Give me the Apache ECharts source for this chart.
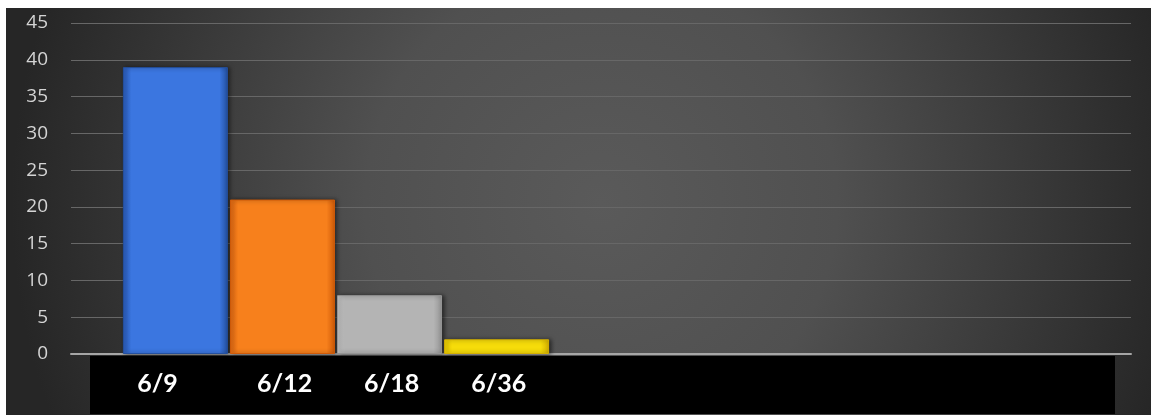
<!DOCTYPE html>
<html>
<head>
<meta charset="UTF-8">
<title>Chart</title>
<script src="https://cdn.jsdelivr.net/npm/echarts@6/dist/echarts.min.js"></script>
<style>
  body { margin: 0; background: #fff; }
  #main { position: absolute; left: 6px; top: 8px; width: 1145px; height: 407px; }
</style>
</head>
<body>
<div id="main"></div>
<script>
// data
var categories = ['6/9', '6/12', '6/18', '6/36'];
var values = [39, 21, 8, 2];
var barColors = [
  ['#2a5cbc', '#3b76e0', '#24509f'],
  ['#e56a12', '#f7801c', '#cf5a08'],
  ['#c8c8c8', '#b4b4b4', '#949494'],
  ['#f0d000', '#f6dc0a', '#d4b000']
];
var yTicks = [0, 45, 5];

var chart = echarts.init(document.getElementById('main'));

function grad(c) {
  return new echarts.graphic.LinearGradient(0, 0, 1, 0, [
    { offset: 0, color: c[0] },
    { offset: 0.08, color: c[1] },
    { offset: 0.92, color: c[1] },
    { offset: 1, color: c[2] }
  ]);
}

var barData = categories.map(function (c, i) {
  return {
    value: [i + 1, values[i]],
    itemStyle: { color: grad(barColors[i]), borderColor: barColors[i][2], borderWidth: 1 }
  };
});

var option = {
  backgroundColor: new echarts.graphic.RadialGradient(0.52, 0.48, 1.45, [
    { offset: 0, color: '#5a5a5a' },
    { offset: 0.4, color: '#505050' },
    { offset: 1, color: '#262626' }
  ]),
  animation: false,
  graphic: [{
    type: 'rect',
    left: 84, top: 348,
    shape: { width: 1025, height: 58 },
    style: { fill: '#000' },
    z: -1
  }],
  grid: { left: 65, right: 20, top: 15, bottom: 61 },
  xAxis: {
    type: 'value',
    min: 0.025, max: 9.925, interval: 1,
    splitLine: { show: false },
    axisTick: { show: false },
    axisLine: { show: true, lineStyle: { color: '#a6a6a6', width: 2 } },
    axisLabel: {
      margin: 17,
      color: '#fff',
      fontFamily: 'Lato',
      fontWeight: 'bold',
      fontSize: 25,
      showMinLabel: false,
      showMaxLabel: false,
      formatter: function (v) {
        var k = Math.round(v) - 1;
        if (!categories[k]) return '';
        return k === 0 ? '{first|' + categories[k] + '}' : categories[k];
      },
      rich: {
        first: { color: '#fff', fontFamily: 'Lato', fontWeight: 'bold', fontSize: 25, padding: [0, 40, 0, 0] }
      }
    }
  },
  yAxis: {
    type: 'value',
    min: yTicks[0], max: yTicks[1], interval: yTicks[2],
    axisLine: { show: false },
    axisTick: { show: false },
    splitLine: { lineStyle: { color: '#676767', width: 1 } },
    axisLabel: { margin: 23, color: '#d4d4d4', fontFamily: 'Open Sans', fontSize: 19 }
  },
  series: [{
    type: 'bar',
    barWidth: 105,
    data: barData,
    itemStyle: { shadowColor: 'rgba(0,0,0,0.5)', shadowBlur: 4, shadowOffsetX: 2 }
  }]
};

chart.setOption(option);
</script>
</body>
</html>
